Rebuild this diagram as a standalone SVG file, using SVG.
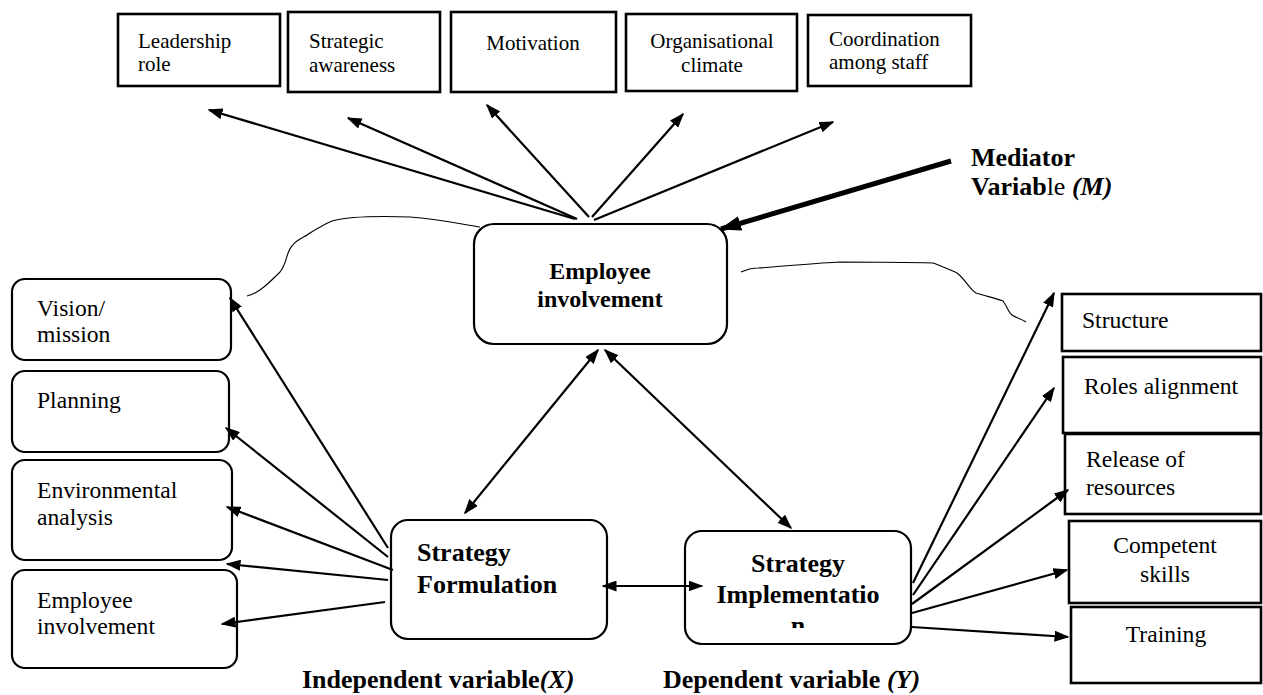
<svg xmlns="http://www.w3.org/2000/svg" width="1263" height="695" viewBox="0 0 1263 695">
  <defs>
    <style>
      .box { fill: #fff; stroke: #000; stroke-width: 2.2; }
      .conn { fill: none; stroke: #000; stroke-width: 2.2; }
      .thin { fill: none; stroke: #000; stroke-width: 1.1; }
      text { font-family: 'Liberation Serif', 'DejaVu Serif', serif; fill: #000; }
      .s21 { font-size: 21px; }
      .s24 { font-size: 23.6px; }
      .b { font-weight: bold; }
      .mid { text-anchor: middle; }
    </style>
    <marker id="ah" markerUnits="userSpaceOnUse" markerWidth="15" markerHeight="11" refX="13.5" refY="5.5" orient="auto-start-reverse" viewBox="0 0 15 11">
      <path d="M0,0 L15,5.5 L0,11 z" fill="#000"/>
    </marker>
    <marker id="ahBig" markerUnits="userSpaceOnUse" markerWidth="22" markerHeight="15" refX="20" refY="7.5" orient="auto" viewBox="0 0 22 15">
      <path d="M0,0 L22,7.5 L0,15 z" fill="#000"/>
    </marker>
    <clipPath id="implClip">
      <rect x="686" y="532" width="224" height="96"/>
    </clipPath>
  </defs>

  <!-- top row: dimensions of employee involvement -->
  <g id="leadership-role">
    <rect class="box" x="118" y="14" width="162" height="72" style="stroke-width:2.6"/>
    <text class="s21" x="138" y="48" font-family="Liberation Serif">Leadership</text>
    <text class="s21" x="138" y="71" font-family="Liberation Serif">role</text>
  </g>
  <g id="strategic-awareness">
    <rect class="box" x="288" y="12" width="152" height="80" style="stroke-width:2.6"/>
    <text class="s21" x="309" y="48">Strategic</text>
    <text class="s21" x="309" y="72">awareness</text>
  </g>
  <g id="motivation">
    <rect class="box" x="451" y="12" width="165" height="80" style="stroke-width:2.6"/>
    <text class="s21 mid" x="533" y="50">Motivation</text>
  </g>
  <g id="organisational-climate">
    <rect class="box" x="626" y="14" width="171" height="77" style="stroke-width:2.6"/>
    <text class="s21 mid" x="712" y="48">Organisational</text>
    <text class="s21 mid" x="712" y="72">climate</text>
  </g>
  <g id="coordination-among-staff">
    <rect class="box" x="808" y="15" width="163" height="71" style="stroke-width:2.6"/>
    <text class="s21" x="829" y="46">Coordination</text>
    <text class="s21" x="829" y="69">among staff</text>
  </g>

  <!-- mediator label -->
  <g id="mediator-label">
    <text class="b" x="971" y="166" style="font-size:26px">Mediator</text>
    <text x="971" y="195" style="font-size:26px"><tspan font-weight="bold">Variab</tspan>le <tspan font-weight="bold" font-style="italic">(M)</tspan></text>
  </g>

  <!-- central construct -->
  <g id="employee-involvement">
    <rect class="box" x="474" y="224" width="253" height="120" rx="20"/>
    <text class="b mid" x="600" y="279" style="font-size:24px">Employee</text>
    <text class="b mid" x="600" y="307" style="font-size:24px">involvement</text>
  </g>

  <!-- left column: dimensions of strategy formulation -->
  <g id="vision-mission">
    <rect class="box" x="12" y="279" width="219" height="81" rx="13"/>
    <text class="s24" x="37" y="316">Vision/</text>
    <text class="s24" x="37" y="342">mission</text>
  </g>
  <g id="planning">
    <rect class="box" x="12" y="371" width="217" height="81" rx="13"/>
    <text class="s24" x="37" y="408">Planning</text>
  </g>
  <g id="environmental-analysis">
    <rect class="box" x="12" y="460" width="220" height="100" rx="13"/>
    <text class="s24" x="37" y="498">Environmental</text>
    <text class="s24" x="37" y="525">analysis</text>
  </g>
  <g id="employee-involvement-left">
    <rect class="box" x="12" y="570" width="225" height="98" rx="13"/>
    <text class="s24" x="37" y="608">Employee</text>
    <text class="s24" x="37" y="634">involvement</text>
  </g>

  <!-- strategy formulation -->
  <g id="strategy-formulation">
    <rect class="box" x="391" y="520" width="216" height="119" rx="17"/>
    <text class="b" x="417" y="561" style="font-size:26px">Strategy</text>
    <text class="b" x="417" y="593" style="font-size:26px">Formulation</text>
  </g>

  <!-- strategy implementation -->
  <g id="strategy-implementation">
    <rect class="box" x="685" y="531" width="226" height="113" rx="17"/>
    <g clip-path="url(#implClip)">
      <text class="b mid" x="798" y="572" style="font-size:26px">Strategy</text>
      <text class="b mid" x="798" y="603" style="font-size:26px">Implementatio</text>
      <text class="b mid" x="798" y="634" style="font-size:26px">n</text>
    </g>
  </g>

  <!-- right column: dimensions of strategy implementation -->
  <g id="structure">
    <rect class="box" x="1062" y="294" width="199" height="57" style="stroke-width:2.6"/>
    <text class="s24" x="1082" y="328">Structure</text>
  </g>
  <g id="roles-alignment">
    <rect class="box" x="1063" y="357" width="198" height="76" style="stroke-width:2.6"/>
    <text class="s24" x="1084" y="394">Roles alignment</text>
  </g>
  <g id="release-of-resources">
    <rect class="box" x="1065" y="434" width="196" height="80" style="stroke-width:2.6"/>
    <text class="s24" x="1086" y="467">Release of</text>
    <text class="s24" x="1086" y="495">resources</text>
  </g>
  <g id="competent-skills">
    <rect class="box" x="1069" y="521" width="192" height="82" style="stroke-width:2.6"/>
    <text class="s24 mid" x="1165" y="553">Competent</text>
    <text class="s24 mid" x="1165" y="582">skills</text>
  </g>
  <g id="training">
    <rect class="box" x="1071" y="607" width="190" height="76" style="stroke-width:2.6"/>
    <text class="s24 mid" x="1166" y="642">Training</text>
  </g>

  <!-- variable labels -->
  <g id="variable-labels">
    <text class="b" x="302" y="688" style="font-size:26px">Independent variable<tspan font-style="italic">(X)</tspan></text>
    <text class="b" x="663" y="688" style="font-size:26px">Dependent variable <tspan font-style="italic">(Y)</tspan></text>
  </g>

  <!-- connectors, drawn over the boxes so arrowheads overlap their edges -->
  <g id="connectors">
    <!-- employee involvement to its dimensions -->
    <line class="conn" x1="575" y1="219" x2="209" y2="110" marker-end="url(#ah)"/>
    <line class="conn" x1="577" y1="219" x2="348" y2="118" marker-end="url(#ah)"/>
    <line class="conn" x1="589" y1="217" x2="487" y2="105" marker-end="url(#ah)"/>
    <line class="conn" x1="592" y1="217" x2="683" y2="114" marker-end="url(#ah)"/>
    <line class="conn" x1="594" y1="220" x2="833" y2="122" marker-end="url(#ah)"/>
    <!-- mediator pointer -->
    <line x1="951" y1="161" x2="721" y2="229" stroke="#000" stroke-width="5" marker-end="url(#ahBig)"/>
    <!-- links between the three main constructs -->
    <line class="conn" x1="465" y1="513" x2="598" y2="350" marker-start="url(#ah)" marker-end="url(#ah)"/>
    <line class="conn" x1="605" y1="350" x2="791" y2="528" marker-start="url(#ah)" marker-end="url(#ah)"/>
    <line class="conn" x1="603" y1="586" x2="702" y2="586" marker-start="url(#ah)" marker-end="url(#ah)"/>
    <!-- formulation to its dimensions -->
    <line class="conn" x1="388" y1="548" x2="230" y2="298" marker-end="url(#ah)"/>
    <line class="conn" x1="388" y1="557" x2="226" y2="428" marker-end="url(#ah)"/>
    <line class="conn" x1="393" y1="570" x2="227" y2="507" marker-end="url(#ah)"/>
    <line class="conn" x1="388" y1="580" x2="227" y2="564" marker-end="url(#ah)"/>
    <line class="conn" x1="385" y1="602" x2="222" y2="624" marker-end="url(#ah)"/>
    <!-- implementation to its dimensions -->
    <line class="conn" x1="913" y1="583" x2="1054" y2="293" marker-end="url(#ah)"/>
    <line class="conn" x1="913" y1="595" x2="1054" y2="388" marker-end="url(#ah)"/>
    <line class="conn" x1="912" y1="604" x2="1068" y2="490" marker-end="url(#ah)"/>
    <line class="conn" x1="912" y1="613" x2="1067" y2="570" marker-end="url(#ah)"/>
    <line class="conn" x1="912" y1="627" x2="1068" y2="637" marker-end="url(#ah)"/>
    <!-- freehand brackets -->
    <path class="thin" d="M247,296 C258,294 270,282 280,272 C287,264 286,252 292,246 C298,238 304,238 310,233 C318,228 325,224 332,221 C350,216 380,216 410,217 C440,219 460,224 480,227"/>
    <path class="thin" d="M741,272 C746,270 750,268 758,268 C790,266 815,263 840,262 C870,262 900,262 933,263 C942,266 950,270 957,273 C966,280 970,290 976,293 C985,296 995,298 1003,301 C1007,306 1008,312 1012,315 C1016,318 1022,319 1026,322"/>
  </g>
</svg>
